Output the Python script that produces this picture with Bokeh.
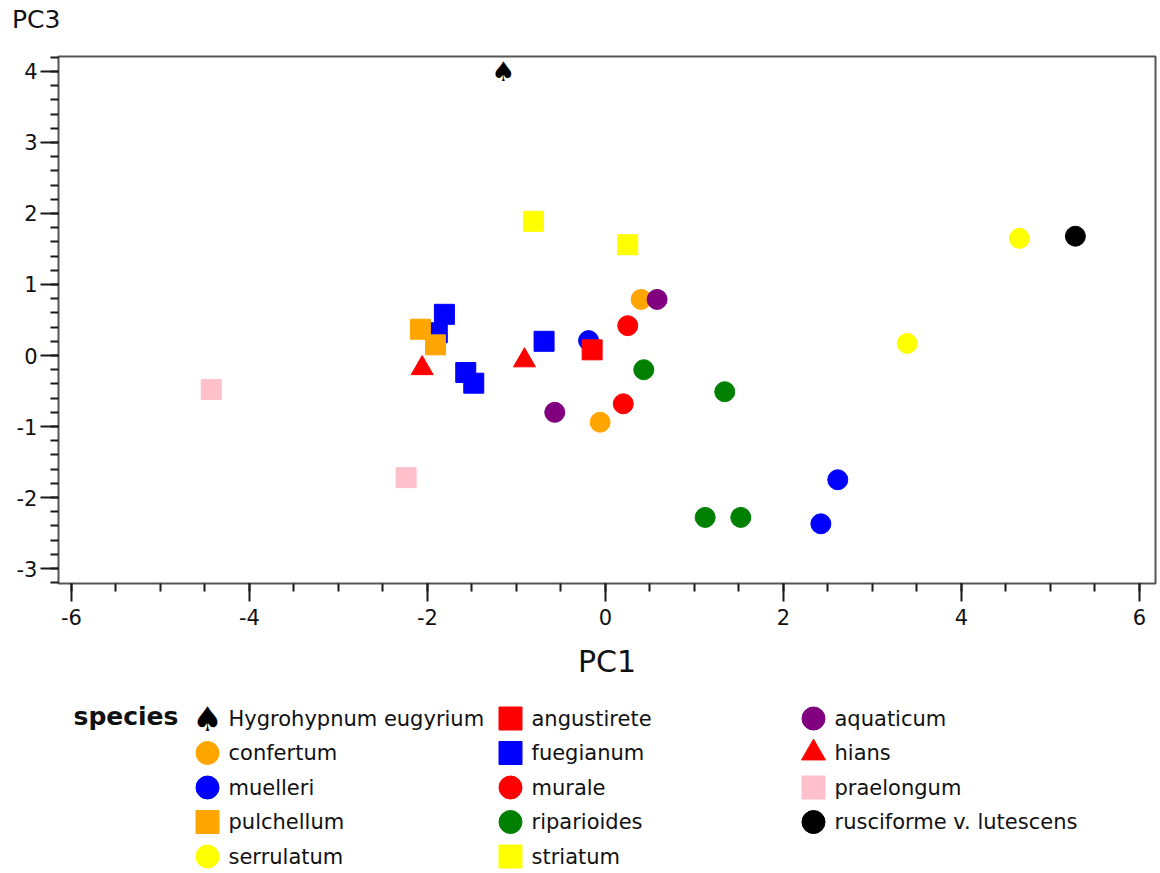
from bokeh.plotting import figure
from bokeh.models import Range1d, SingleIntervalTicker, ColumnDataSource, Div
from bokeh.layouts import column
from bokeh.embed import file_html
from bokeh.resources import INLINE
from bokeh.core.properties import value

# ---------------- data ----------------
species = ["Hygrohypnum eugyrium", "angustirete", "aquaticum",
           "confertum", "fuegianum", "hians",
           "muelleri", "murale", "praelongum",
           "pulchellum", "riparioides", "rusciforme v. lutescens",
           "serrulatum", "striatum"]

pt_species = ["Hygrohypnum eugyrium",
              "confertum", "confertum",
              "aquaticum", "aquaticum",
              "fuegianum", "fuegianum", "fuegianum", "fuegianum", "fuegianum",
              "hians", "hians",
              "muelleri", "muelleri", "muelleri",
              "angustirete",
              "murale", "murale",
              "praelongum", "praelongum",
              "pulchellum", "pulchellum",
              "riparioides", "riparioides", "riparioides", "riparioides",
              "rusciforme v. lutescens",
              "serrulatum", "serrulatum",
              "striatum", "striatum"]
pc1 = [-1.15,
       0.40, -0.06,
       0.58, -0.57,
       -1.81, -1.89, -0.69, -1.57, -1.48,
       -2.06, -0.91,
       -0.19, 2.61, 2.42,
       -0.15,
       0.25, 0.20,
       -4.43, -2.24,
       -2.08, -1.91,
       0.43, 1.34, 1.12, 1.52,
       5.28,
       4.65, 3.39,
       -0.81, 0.25]
pc3 = [4.00,
       0.79, -0.94,
       0.79, -0.80,
       0.58, 0.32, 0.20, -0.24, -0.39,
       -0.18, -0.07,
       0.21, -1.75, -2.37,
       0.08,
       0.42, -0.68,
       -0.48, -1.72,
       0.37, 0.15,
       -0.20, -0.51, -2.28, -2.28,
       1.68,
       1.65, 0.17,
       1.89, 1.56]

x_ticks = [-6, -4, -2, 0, 2, 4, 6]
y_ticks = [-3, -2, -1, 0, 1, 2, 3, 4]

# ---------------- styles ----------------
SPADE = "Hygrohypnum eugyrium"
style = {
    "angustirete": ("square", "#FF0000"),
    "aquaticum": ("circle", "#800080"),
    "confertum": ("circle", "#FFA500"),
    "fuegianum": ("square", "#0000FF"),
    "hians": ("triangle", "#FF0000"),
    "muelleri": ("circle", "#0000FF"),
    "murale": ("circle", "#FF0000"),
    "praelongum": ("square", "#FFC0CB"),
    "pulchellum": ("square", "#FFA500"),
    "riparioides": ("circle", "#008000"),
    "rusciforme v. lutescens": ("circle", "#000000"),
    "serrulatum": ("circle", "#FFFF00"),
    "striatum": ("square", "#FFFF00"),
}
FONT = "DejaVu Sans"
FL, FW, FH = 58, 1097, 527   # frame left, width, height (px)

# ---------------- y-axis name (top-left, horizontal) ----------------
head = Div(text=('<div style="font-family:\'DejaVu Sans\';font-size:25px;'
                 'color:#111111;margin:6px 0 0 12px;line-height:28px;'
                 'white-space:nowrap">PC3</div>'),
           width=200, height=54, margin=0)

# ---------------- main plot ----------------
p = figure(frame_width=FW, frame_height=FH,
           min_border_left=FL, min_border_right=3,
           min_border_top=2, min_border_bottom=102,
           x_range=Range1d(-6.146, 6.18), y_range=Range1d(-3.211, 4.211),
           output_backend="svg", toolbar_location=None)

p.xgrid.visible = False
p.ygrid.visible = False
p.outline_line_color = "#555555"
p.outline_line_width = 2
p.background_fill_color = "white"
p.border_fill_color = "white"

p.xaxis.ticker = SingleIntervalTicker(interval=2, num_minor_ticks=4)
p.yaxis.ticker = SingleIntervalTicker(interval=1, num_minor_ticks=5)
p.xaxis.major_label_overrides = {v: str(v) for v in x_ticks}
p.yaxis.major_label_overrides = {v: str(v) for v in y_ticks}

for ax in (p.xaxis[0], p.yaxis[0]):
    ax.axis_line_color = None
    ax.major_tick_in = 0
    ax.major_tick_out = 18
    ax.minor_tick_in = 0
    ax.minor_tick_out = 8
    ax.major_tick_line_color = "#1a1a1a"
    ax.minor_tick_line_color = "#1a1a1a"
    ax.major_tick_line_width = 2
    ax.minor_tick_line_width = 2
    ax.major_label_text_font = FONT
    ax.major_label_text_font_size = "21px"
    ax.major_label_text_color = "#111111"
p.xaxis.major_label_standoff = 7
p.yaxis.major_label_standoff = 3

p.xaxis.axis_label = "PC1"
p.xaxis.axis_label_text_font = FONT
p.xaxis.axis_label_text_font_size = "30px"
p.xaxis.axis_label_text_font_style = "normal"
p.xaxis.axis_label_text_color = "#111111"
p.xaxis.axis_label_standoff = 16

sx, sy, mk, col, sz = [], [], [], [], []
spx, spy = [], []
for s, a, b in zip(pt_species, pc1, pc3):
    if s == SPADE:
        spx.append(a)
        spy.append(b)
        continue
    m, c = style[s]
    sx.append(a)
    sy.append(b)
    mk.append(m)
    col.append(c)
    sz.append(22 if m == "triangle" else 20)

src = ColumnDataSource(dict(x=sx, y=sy, marker=mk, color=col, size=sz))
p.scatter("x", "y", source=src, marker="marker", size="size",
          fill_color="color", line_color="color", line_width=1)
p.text(x=spx, y=spy, text=["\u2660"] * len(spx), text_font=value(FONT),
       text_font_size=value("27px"), text_align="center",
       text_baseline="middle", text_color="black")

# ---------------- legend (separate panel, x in page pixels) ----------------
LH = 188
lg = figure(frame_width=FW, frame_height=LH,
            min_border_left=FL, min_border_right=3,
            min_border_top=0, min_border_bottom=0,
            x_range=Range1d(FL, FL + FW), y_range=Range1d(LH, 0),
            x_axis_location=None, y_axis_location=None,
            output_backend="svg", toolbar_location=None)
lg.grid.visible = False
lg.outline_line_color = None
lg.background_fill_color = "white"
lg.border_fill_color = "white"

gx = [207 + (i % 3) * 303 for i in range(len(species))]
gy = [33 + (i // 3) * 34.5 for i in range(len(species))]

lsrc = ColumnDataSource(dict(
    x=[gx[i] for i, s in enumerate(species) if s != SPADE],
    y=[gy[i] for i, s in enumerate(species) if s != SPADE],
    marker=[style[s][0] for s in species if s != SPADE],
    color=[style[s][1] for s in species if s != SPADE],
    size=[24 if style[s][0] == "triangle" else 23 for s in species if s != SPADE],
))
lg.scatter("x", "y", source=lsrc, marker="marker", size="size",
           fill_color="color", line_color="color")
lg.text(x=[gx[i] for i, s in enumerate(species) if s == SPADE],
        y=[gy[i] for i, s in enumerate(species) if s == SPADE],
        text=["\u2660"], text_font=value(FONT), text_font_size=value("34px"),
        text_align="center", text_baseline="middle", text_color="black")
lg.text(x=[v + 21 for v in gx], y=gy, text=species, text_font=value(FONT),
        text_font_size=value("21px"), text_align="left", text_baseline="middle",
        text_color="#111111")
lg.text(x=[73], y=[31], text=["species"], text_font=value(FONT),
        text_font_size=value("25px"), text_font_style="bold",
        text_align="left", text_baseline="middle", text_color="#111111")

layout = column(head, p, lg, spacing=0)
open("out.html", "w").write(file_html(layout, INLINE))
